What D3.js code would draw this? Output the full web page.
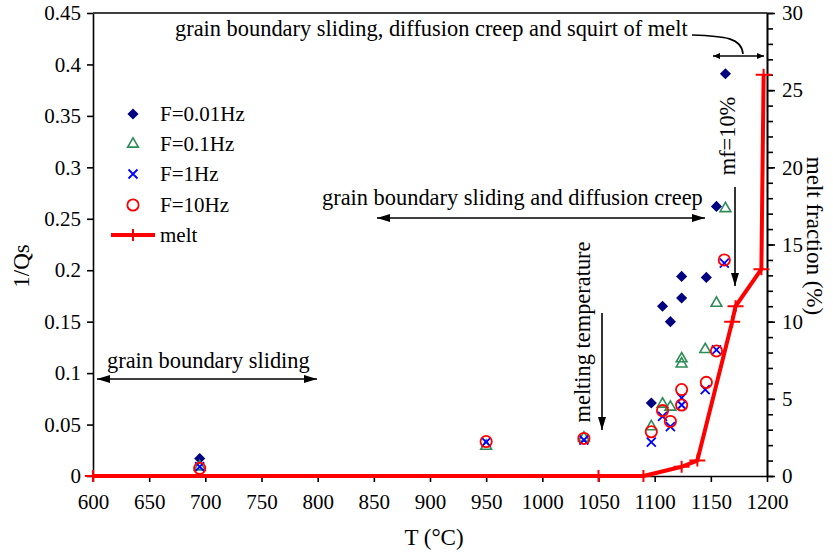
<!DOCTYPE html>
<html>
<head>
<meta charset="utf-8">
<script src="https://d3js.org/d3.v7.min.js"></script>
<style>
  body { margin: 0; background: #fff; }
  svg { display: block; font-family: "Liberation Serif", "Times New Roman", serif; }
</style>
</head>
<body>
<div id="chart"></div>
<script>
// temperature (°C) and 1/Qs for each frequency
const f001 = [[695, 0.017], [1097, 0.071], [1107, 0.165], [1114, 0.150], [1124, 0.194], [1124, 0.173], [1146, 0.193], [1155, 0.262], [1163, 0.391]];
const f01 = [[695, 0.009], [950, 0.029], [1037, 0.037], [1097, 0.048], [1107, 0.070], [1114, 0.067], [1124, 0.114], [1124, 0.109], [1145, 0.123], [1155, 0.168], [1163, 0.260]];
const f1 = [[695, 0.009], [950, 0.033], [1037, 0.035], [1097, 0.033], [1107, 0.058], [1114, 0.048], [1124, 0.076], [1124, 0.069], [1145, 0.084], [1155, 0.1225], [1162, 0.207]];
const f10 = [[695, 0.0075], [950, 0.0335], [1037, 0.0365], [1097, 0.043], [1107, 0.0635], [1114, 0.053], [1124, 0.084], [1124, 0.069], [1146, 0.091], [1155, 0.1215], [1162, 0.210]];

// melt fraction (%) vs temperature
const meltT = [600, 1050, 1090, 1124, 1138, 1169, 1172, 1195, 1197];
const meltF = [0, 0, 0, 0.6, 1, 10, 11, 13.4, 26];

const tempTicks = [600, 650, 700, 750, 800, 850, 900, 950, 1000, 1050, 1100, 1150, 1200];
const qTicks = [0, 0.05, 0.1, 0.15, 0.2, 0.25, 0.3, 0.35, 0.4, 0.45];
const qLabels = ["0", "0.05", "0.1", "0.15", "0.2", "0.25", "0.3", "0.35", "0.4", "0.45"];
const meltTicks = [0, 5, 10, 15, 20, 25, 30];

const width = 833, height = 553;
const margin = { top: 13, right: 66, bottom: 77, left: 93 };

const svg = d3.select("#chart").append("svg")
  .attr("width", width)
  .attr("height", height);

const x = d3.scaleLinear().domain([600, 1200]).range([margin.left, width - margin.right]);
const y = d3.scaleLinear().domain([0, 0.45]).range([height - margin.bottom, margin.top]);
const y2 = d3.scaleLinear().domain([0, 30]).range([height - margin.bottom, margin.top]);

// arrow heads
const defs = svg.append("defs");
function arrowMarker(id, w, h, orient) {
  defs.append("marker")
    .attr("id", id)
    .attr("viewBox", `0 ${-h / 2} ${w} ${h}`)
    .attr("refX", w)
    .attr("refY", 0)
    .attr("markerUnits", "userSpaceOnUse")
    .attr("markerWidth", w)
    .attr("markerHeight", h)
    .attr("orient", orient)
    .append("path")
    .attr("d", `M0,${-h / 2}L${w},0L0,${h / 2}Z`)
    .attr("fill", "#000");
}
arrowMarker("arrowEnd", 13, 8, "auto");
arrowMarker("arrowStart", 13, 8, "auto-start-reverse");
arrowMarker("smallEnd", 7, 6, "auto");
arrowMarker("smallStart", 7, 6, "auto-start-reverse");

// axes
const fontSize = 21;
const xAxis = svg.append("g")
  .attr("transform", `translate(0,${height - margin.bottom})`)
  .call(d3.axisBottom(x).tickValues(tempTicks).tickSize(6).tickSizeOuter(0).tickFormat(d3.format("d")));
xAxis.selectAll("text").attr("y", 18).attr("dy", "0.71em");

const yAxis = svg.append("g")
  .attr("transform", `translate(${margin.left},0)`)
  .call(d3.axisLeft(y).tickValues(qTicks).tickSize(6).tickPadding(6).tickSizeOuter(0)
    .tickFormat((d, i) => qLabels[i]));

const y2Minor = svg.append("g")
  .attr("transform", `translate(${width - margin.right},0)`)
  .call(d3.axisRight(y2).tickValues(d3.range(0, 31, 1)).tickSize(6).tickSizeOuter(0).tickFormat(""));

const y2Axis = svg.append("g")
  .attr("transform", `translate(${width - margin.right},0)`)
  .call(d3.axisRight(y2).tickValues(meltTicks).tickSize(8).tickPadding(7).tickSizeOuter(0));

[xAxis, yAxis, y2Axis, y2Minor].forEach(g => {
  g.selectAll("text").attr("font-size", fontSize).attr("font-family", "Liberation Serif").attr("fill", "#000");
  g.selectAll("line").attr("stroke", "#000").attr("stroke-width", 1.6);
  g.select(".domain").attr("stroke", "#000").attr("stroke-width", 1.6);
});

// top frame
svg.append("line")
  .attr("x1", x(600)).attr("x2", x(1200))
  .attr("y1", y(0.45)).attr("y2", y(0.45))
  .attr("stroke", "#000").attr("stroke-width", 1.6);

// axis titles
svg.append("text")
  .attr("transform", `translate(29,266) rotate(-90)`)
  .attr("text-anchor", "middle")
  .attr("font-size", 23)
  .text("1/Qs");

svg.append("text")
  .attr("x", 434).attr("y", 545)
  .attr("text-anchor", "middle")
  .attr("font-size", 23)
  .text("T (°C)");

svg.append("text")
  .attr("transform", `translate(807,236) rotate(90)`)
  .attr("text-anchor", "middle")
  .attr("font-size", 23)
  .text("melt fraction (%)");

// melt curve
const melt = meltT.map((t, i) => [t, meltF[i]]);
const plus = "M-8,0H8M0,-6V6";

svg.append("path")
  .datum(melt)
  .attr("fill", "none")
  .attr("stroke", "#ff0000")
  .attr("stroke-width", 4)
  .attr("stroke-linejoin", "round")
  .attr("d", d3.line().x(d => x(d[0])).y(d => y2(d[1])));

svg.selectAll(".melt-pt")
  .data(melt)
  .join("path")
  .attr("class", "melt-pt")
  .attr("transform", d => `translate(${x(d[0])},${y2(d[1])})`)
  .attr("d", plus)
  .attr("stroke", "#ff0000")
  .attr("stroke-width", 2)
  .attr("fill", "none");

// scatter series
const series = [
  { name: "F=0.01Hz", data: f001, type: "diamond", color: "#000080" },
  { name: "F=0.1Hz", data: f01, type: "triangle", color: "#2e8b57" },
  { name: "F=1Hz", data: f1, type: "x", color: "#0000ff" },
  { name: "F=10Hz", data: f10, type: "circle", color: "#ff0000" }
];

function drawMarker(sel, s) {
  if (s.type === "diamond") {
    sel.attr("d", d3.symbol().type(d3.symbolSquare).size(62)())
      .attr("fill", s.color).attr("stroke", "none");
  } else if (s.type === "triangle") {
    sel.attr("d", d3.symbol().type(d3.symbolTriangle).size(50)())
      .attr("fill", "none").attr("stroke", s.color).attr("stroke-width", 1.6);
  } else if (s.type === "x") {
    sel.attr("d", "M-4.5,-4.5L4.5,4.5M-4.5,4.5L4.5,-4.5")
      .attr("fill", "none").attr("stroke", s.color).attr("stroke-width", 1.8);
  } else {
    sel.attr("d", d3.symbol().type(d3.symbolCircle).size(100)())
      .attr("fill", "none").attr("stroke", s.color).attr("stroke-width", 1.8);
  }
}

series.forEach(s => {
  const rot = s.type === "diamond" ? " rotate(45)" : "";
  svg.append("g").selectAll("path")
    .data(s.data)
    .join("path")
    .attr("transform", d => `translate(${x(d[0])},${y(d[1])})${rot}`)
    .call(drawMarker, s);
});

// legend
const legend = svg.append("g");
const rowY = [114, 144, 174, 205];
series.forEach((s, i) => {
  const rot = s.type === "diamond" ? " rotate(45)" : "";
  legend.append("path")
    .attr("transform", `translate(133,${rowY[i]})${rot}`)
    .call(drawMarker, s);
  legend.append("text")
    .attr("x", 160).attr("y", rowY[i])
    .attr("dy", "0.35em")
    .attr("font-size", fontSize)
    .text(s.name);
});
legend.append("line")
  .attr("x1", 111).attr("x2", 155)
  .attr("y1", 235).attr("y2", 235)
  .attr("stroke", "#ff0000").attr("stroke-width", 4);
legend.append("path")
  .attr("transform", "translate(133,235)")
  .attr("d", plus)
  .attr("stroke", "#ff0000").attr("stroke-width", 2);
legend.append("text")
  .attr("x", 160).attr("y", 235)
  .attr("dy", "0.35em")
  .attr("font-size", fontSize)
  .text("melt");

// annotations
const ann = svg.append("g").attr("font-size", 22.4);

ann.append("text").attr("x", 107).attr("y", 368).text("grain boundary sliding");
ann.append("line")
  .attr("x1", 97).attr("x2", 317).attr("y1", 379).attr("y2", 379)
  .attr("stroke", "#000").attr("stroke-width", 1.6)
  .attr("marker-start", "url(#arrowStart)").attr("marker-end", "url(#arrowEnd)");

ann.append("text").attr("x", 322).attr("y", 205).text("grain boundary sliding and diffusion creep");
ann.append("line")
  .attr("x1", 377).attr("x2", 705).attr("y1", 218).attr("y2", 218)
  .attr("stroke", "#000").attr("stroke-width", 1.6)
  .attr("marker-start", "url(#arrowStart)").attr("marker-end", "url(#arrowEnd)");

ann.append("text")
  .attr("transform", "translate(590,332) rotate(-90)")
  .attr("text-anchor", "middle")
  .text("melting temperature");
ann.append("line")
  .attr("x1", 602).attr("x2", 602).attr("y1", 313).attr("y2", 430)
  .attr("stroke", "#000").attr("stroke-width", 1.6)
  .attr("marker-end", "url(#arrowEnd)");

ann.append("text")
  .attr("transform", "translate(735,136) rotate(-90)")
  .attr("text-anchor", "middle")
  .text("mf=10%");
ann.append("line")
  .attr("x1", 735).attr("x2", 735).attr("y1", 187).attr("y2", 286)
  .attr("stroke", "#000").attr("stroke-width", 1.6)
  .attr("marker-end", "url(#arrowEnd)");

ann.append("text").attr("x", 175).attr("y", 36).text("grain boundary sliding, diffusion creep and squirt of melt");
ann.append("path")
  .attr("d", "M692,35 C725,36 742,38 743,54")
  .attr("fill", "none").attr("stroke", "#000").attr("stroke-width", 1.6);
ann.append("line")
  .attr("x1", 713).attr("x2", 764).attr("y1", 56).attr("y2", 56)
  .attr("stroke", "#000").attr("stroke-width", 1.4)
  .attr("marker-start", "url(#smallStart)").attr("marker-end", "url(#smallEnd)");
</script>
</body>
</html>
